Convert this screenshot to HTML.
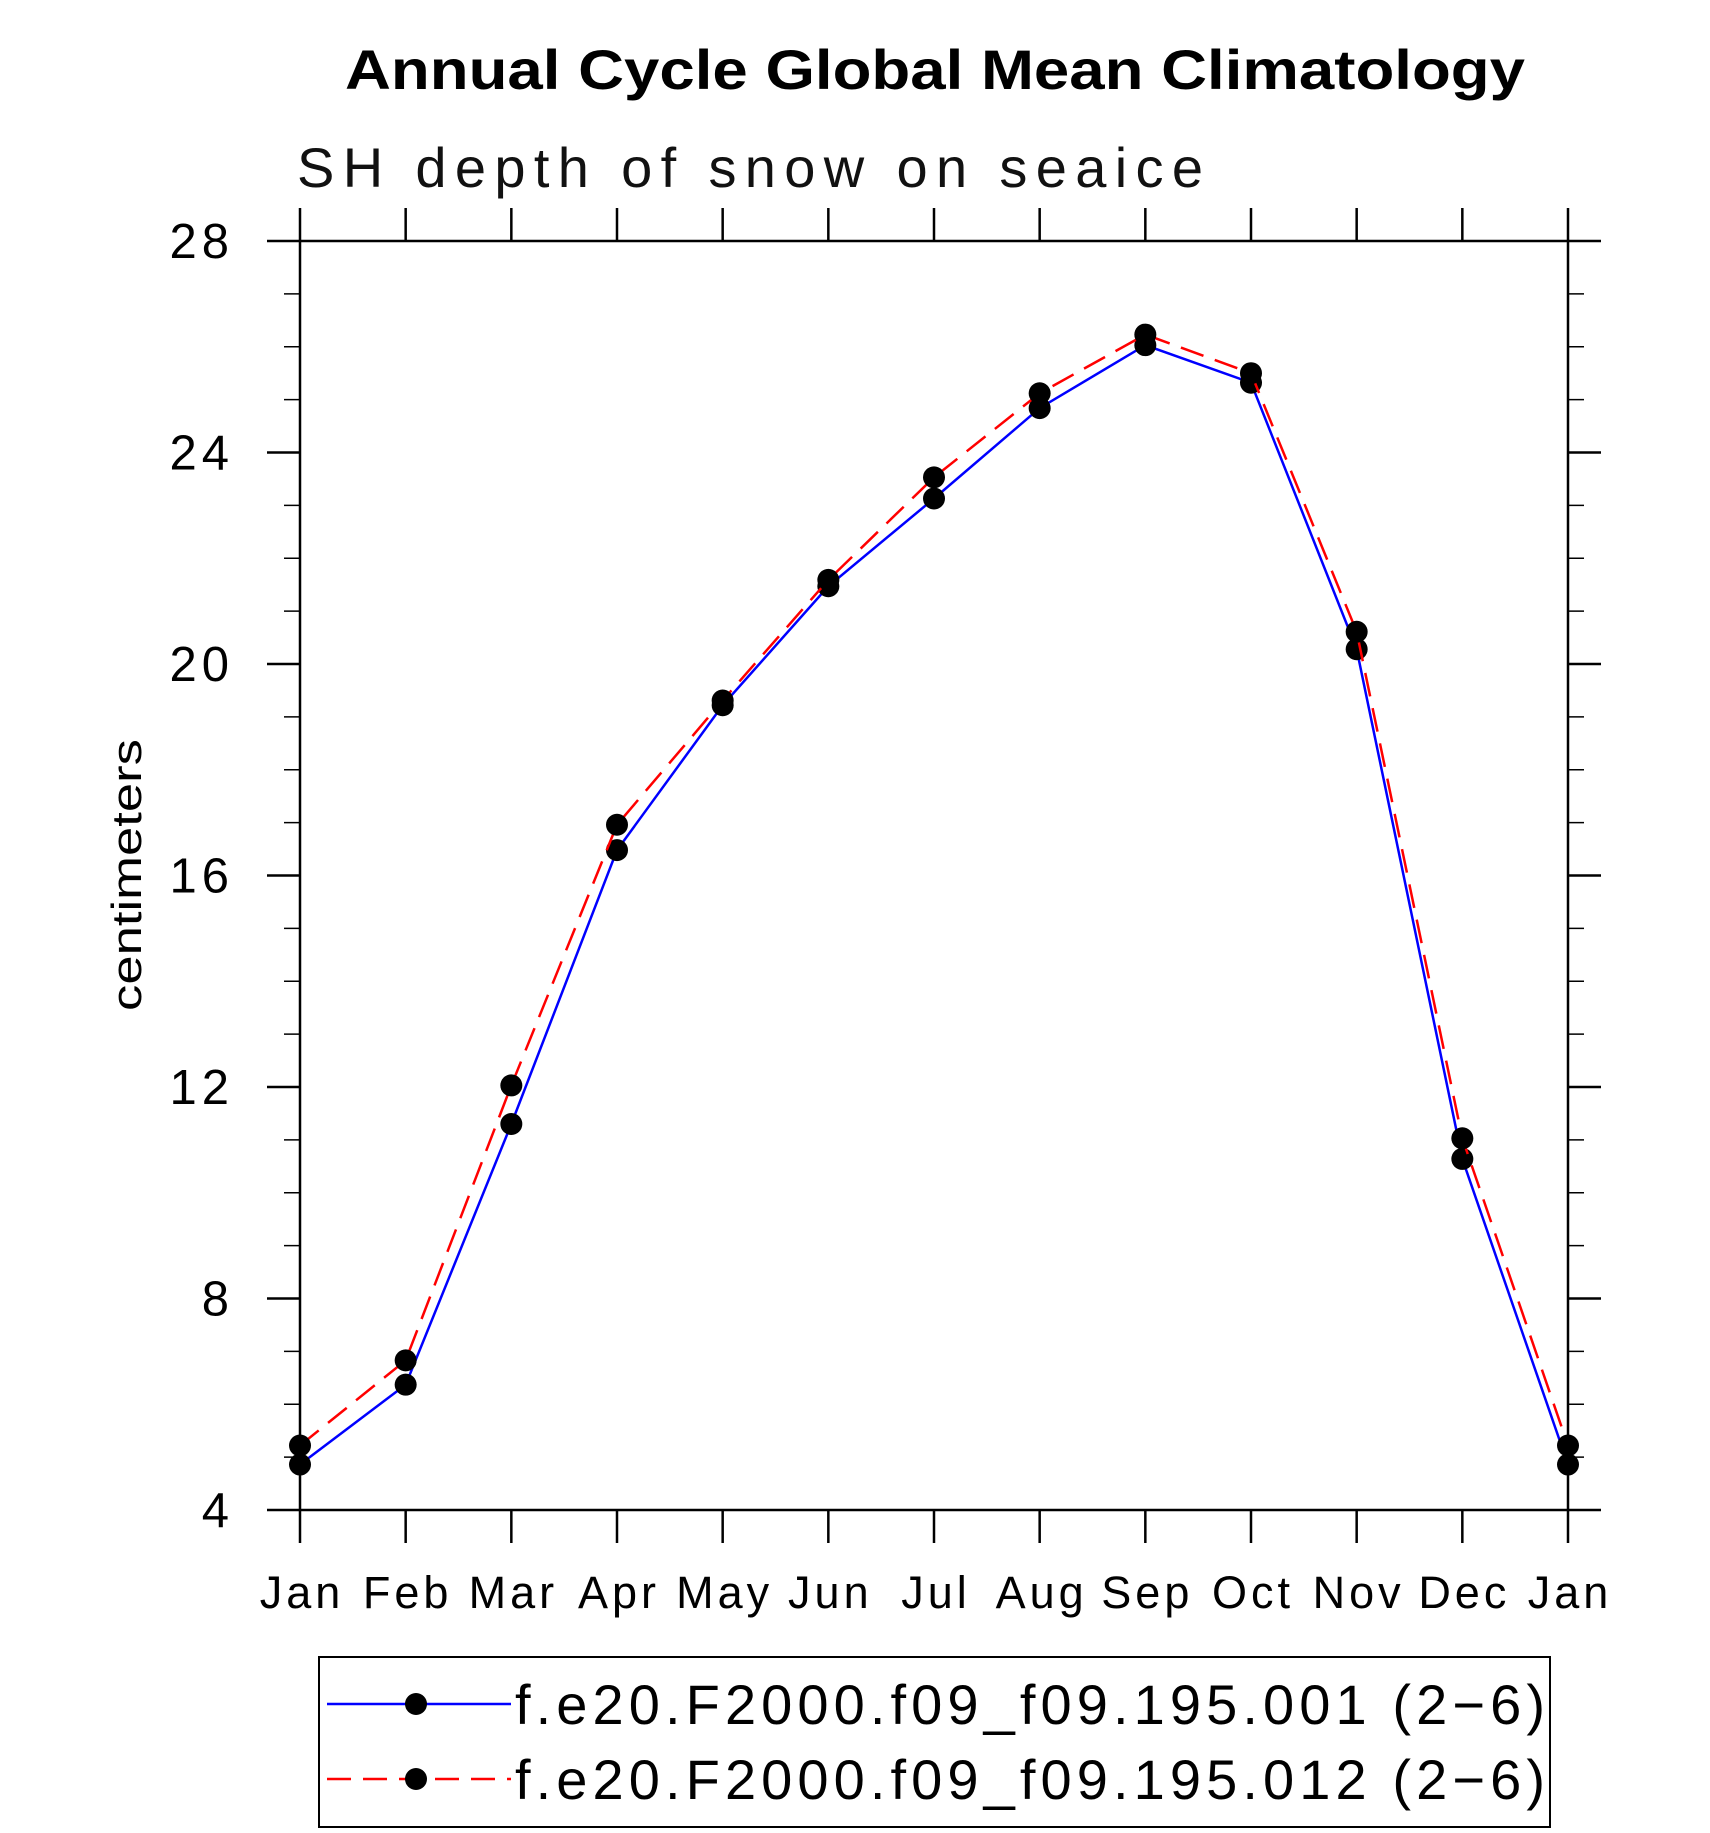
<!DOCTYPE html>
<html><head><meta charset="utf-8"><style>body{margin:0;background:#fff}svg{display:block}</style></head>
<body>
<svg id="chart" width="1710" height="1833" xmlns="http://www.w3.org/2000/svg" font-family="Liberation Sans, sans-serif">
<text x="935" y="89" text-anchor="middle" font-size="56" font-weight="bold" textLength="1180" lengthAdjust="spacingAndGlyphs">Annual Cycle Global Mean Climatology</text>
<text x="297" y="187" font-size="56" font-weight="normal" textLength="906" lengthAdjust="spacing" fill="#111">SH depth of snow on seaice</text>
<text transform="translate(141,875) rotate(-90)" text-anchor="middle" font-size="42" textLength="272" lengthAdjust="spacingAndGlyphs">centimeters</text>
<g id="axes"></g>
<g id="series"></g>
<rect x="319" y="1657" width="1231" height="170" fill="none" stroke="#000" stroke-width="2"/>
<g>
<line x1="327" y1="1704" x2="511" y2="1704" stroke="#0000ff" stroke-width="2.5"/>
<circle cx="416" cy="1704" r="11"/>
<text x="515" y="1724" font-size="56" textLength="1030" lengthAdjust="spacing">f.e20.F2000.f09_f09.195.001 (2−6)</text>
</g>
<g>
<line x1="327" y1="1779" x2="511" y2="1779" stroke="#ff0000" stroke-width="2.5" stroke-dasharray="24,12"/>
<circle cx="416" cy="1779" r="11"/>
<text x="515" y="1799" font-size="56" textLength="1030" lengthAdjust="spacing">f.e20.F2000.f09_f09.195.012 (2−6)</text>
</g>
</svg>
<script>
const months = ["Jan","Feb","Mar","Apr","May","Jun","Jul","Aug","Sep","Oct","Nov","Dec","Jan"];
const seriesA = [4.86,6.37,11.3,16.48,19.22,21.47,23.13,24.84,26.03,25.32,20.28,10.64,4.86];
const seriesB = [5.22,6.83,12.03,16.96,19.31,21.59,23.53,25.12,26.23,25.5,20.61,11.03,5.22];
const yTicks = [4,8,12,16,20,24,28];

const L=300,R=1568,T=241,B=1510,yMin=4,yMax=28;
const NS="http://www.w3.org/2000/svg";
function x(i){return L+(R-L)*i/(months.length-1);}
function y(v){return B-(B-T)*(v-yMin)/(yMax-yMin);}
function mk(tag,attrs,parent){const e=document.createElementNS(NS,tag);for(const k in attrs)e.setAttribute(k,attrs[k]);parent.appendChild(e);return e;}
const ax=document.getElementById('axes');
const frame=mk('rect',{x:L,y:T,width:R-L,height:B-T,fill:'none',stroke:'#000','stroke-width':2.5},ax);


months.forEach((m,i)=>{
  const xx=x(i);
  mk('line',{x1:xx,y1:B,x2:xx,y2:B+33,stroke:'#000','stroke-width':2.5},ax);
  mk('line',{x1:xx,y1:T,x2:xx,y2:T-33,stroke:'#000','stroke-width':2.5},ax);
  const t=mk('text',{x:xx+2,y:1608,'text-anchor':'middle','font-size':45,'letter-spacing':4},ax);
  
  
  t.textContent=m;
});
for(let v=yMin;v<=yMax;v+=1){
  const yy=y(v);const major=yTicks.includes(v);
  const len=major?33:16;
  mk('line',{x1:L,y1:yy,x2:L-len,y2:yy,stroke:'#000','stroke-width':major?2.5:1.5},ax);
  mk('line',{x1:R,y1:yy,x2:R+len,y2:yy,stroke:'#000','stroke-width':major?2.5:1.5},ax);
}
yTicks.forEach(v=>{
  const t=mk('text',{x:234,y:y(v)+17,'text-anchor':'end','font-size':49,'letter-spacing':5},ax);
  
  
  t.textContent=v;
});
const sg=document.getElementById('series');
function draw(vals,color,dash,name){
  const g=mk('g',{},sg);
  
  
  const p=mk('polyline',{points:vals.map((v,i)=>x(i)+','+y(v)).join(' '),fill:'none',stroke:color,'stroke-width':2.5},g);
  if(dash)p.setAttribute('stroke-dasharray',dash);
  return g;
}
const gA=draw(seriesA,'#0000ff',null,'series-001');
const gB=draw(seriesB,'#ff0000','24,12','series-012');
[[seriesA,gA],[seriesB,gB]].forEach(([vals,g])=>{
  vals.forEach((v,i)=>{
    const c=mk('circle',{cx:x(i),cy:y(v),r:11,fill:'#000'},g);
    
    
  });
});
</script>
</body></html>
